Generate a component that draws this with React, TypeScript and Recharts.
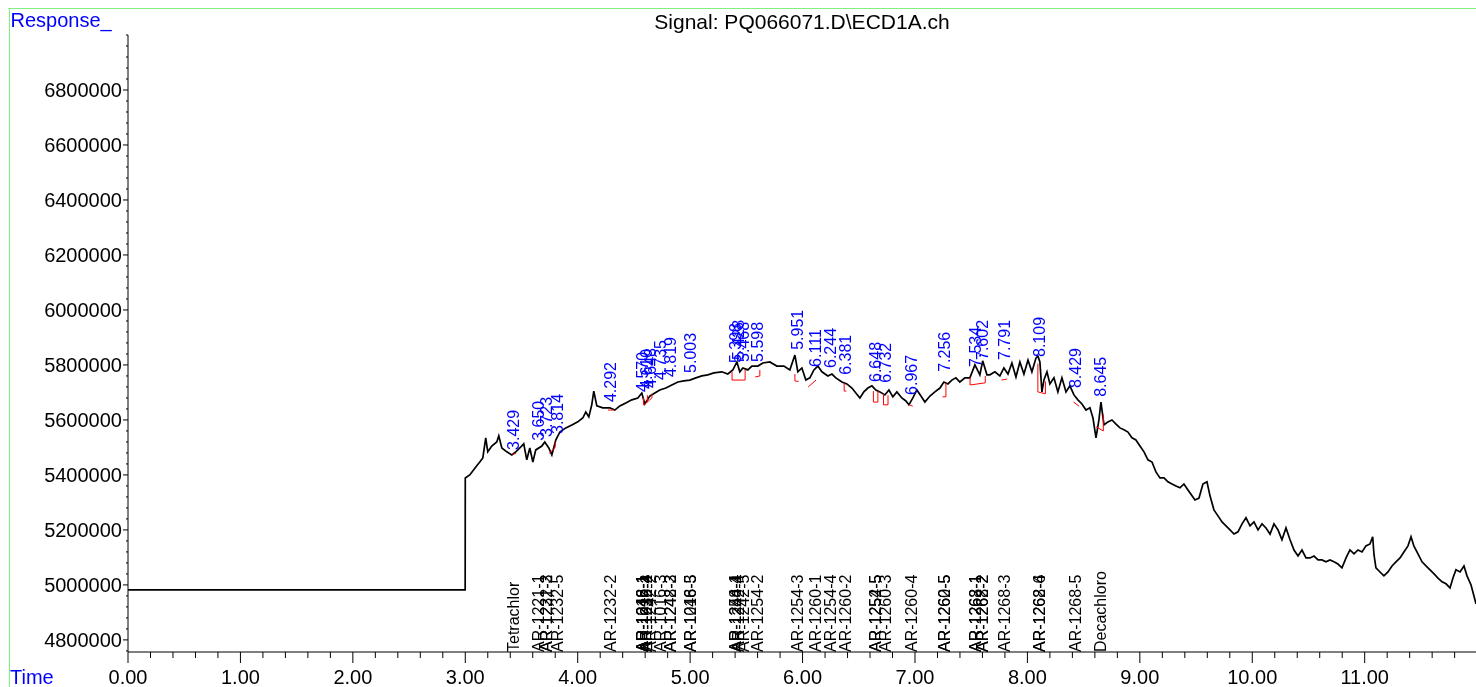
import { ComposedChart, Line, Scatter, XAxis, YAxis } from 'recharts';

// detector trace: [time (min), response]
const signal: [number, number][] = [
  [0, 4982000], [2.999, 4982000], [3.0, 5389000], [3.04, 5400000], [3.102, 5433000],
  [3.129, 5447000], [3.156, 5462000], [3.182, 5535000], [3.2, 5484000], [3.236, 5505000],
  [3.28, 5520000], [3.298, 5542000], [3.325, 5498000], [3.369, 5484000], [3.414, 5473000],
  [3.449, 5484000], [3.485, 5498000], [3.52, 5513000], [3.547, 5455000], [3.574, 5498000],
  [3.601, 5447000], [3.627, 5491000], [3.681, 5505000], [3.707, 5520000], [3.743, 5498000],
  [3.77, 5473000], [3.805, 5527000], [3.841, 5556000], [3.894, 5571000], [3.948, 5582000],
  [4.001, 5593000], [4.045, 5607000], [4.072, 5629000], [4.099, 5611000], [4.125, 5655000],
  [4.143, 5705000], [4.17, 5651000], [4.223, 5644000], [4.286, 5644000], [4.33, 5636000],
  [4.375, 5651000], [4.428, 5662000], [4.481, 5673000], [4.535, 5680000], [4.57, 5698000],
  [4.597, 5658000], [4.641, 5687000], [4.686, 5698000], [4.73, 5709000], [4.784, 5716000],
  [4.837, 5727000], [4.891, 5738000], [4.944, 5742000], [4.997, 5745000], [5.051, 5753000],
  [5.104, 5760000], [5.157, 5764000], [5.211, 5771000], [5.282, 5775000], [5.335, 5767000],
  [5.38, 5782000], [5.416, 5811000], [5.442, 5775000], [5.469, 5789000], [5.513, 5782000],
  [5.549, 5796000], [5.602, 5796000], [5.647, 5807000], [5.709, 5811000], [5.771, 5796000],
  [5.834, 5796000], [5.887, 5782000], [5.932, 5836000], [5.958, 5775000], [5.994, 5789000],
  [6.029, 5745000], [6.065, 5753000], [6.101, 5782000], [6.136, 5796000], [6.172, 5775000],
  [6.225, 5760000], [6.261, 5767000], [6.296, 5753000], [6.35, 5738000], [6.394, 5731000],
  [6.439, 5716000], [6.474, 5698000], [6.51, 5680000], [6.545, 5702000], [6.581, 5716000],
  [6.617, 5724000], [6.652, 5709000], [6.688, 5702000], [6.732, 5691000], [6.768, 5709000],
  [6.803, 5684000], [6.839, 5702000], [6.883, 5680000], [6.919, 5669000], [6.946, 5655000],
  [6.981, 5680000], [7.017, 5709000], [7.053, 5687000], [7.088, 5665000], [7.133, 5687000],
  [7.177, 5702000], [7.222, 5716000], [7.257, 5738000], [7.293, 5731000], [7.328, 5745000],
  [7.364, 5753000], [7.399, 5738000], [7.444, 5753000], [7.488, 5753000], [7.533, 5800000],
  [7.577, 5764000], [7.602, 5815000], [7.64, 5764000], [7.666, 5764000], [7.711, 5775000],
  [7.755, 5760000], [7.791, 5789000], [7.827, 5767000], [7.862, 5807000], [7.898, 5756000],
  [7.933, 5811000], [7.969, 5767000], [8.005, 5818000], [8.04, 5775000], [8.076, 5825000],
  [8.093, 5833000], [8.111, 5811000], [8.129, 5702000], [8.147, 5745000], [8.174, 5775000],
  [8.2, 5731000], [8.236, 5753000], [8.271, 5702000], [8.307, 5753000], [8.343, 5702000],
  [8.378, 5724000], [8.414, 5691000], [8.449, 5673000], [8.485, 5658000], [8.521, 5636000],
  [8.556, 5644000], [8.583, 5607000], [8.61, 5535000], [8.636, 5600000], [8.654, 5665000],
  [8.681, 5582000], [8.716, 5593000], [8.752, 5600000], [8.788, 5585000], [8.823, 5571000],
  [8.859, 5564000], [8.894, 5556000], [8.93, 5535000], [8.965, 5527000], [9.001, 5505000],
  [9.037, 5484000], [9.072, 5455000], [9.108, 5447000], [9.143, 5411000], [9.179, 5389000],
  [9.215, 5389000], [9.25, 5375000], [9.286, 5367000], [9.321, 5360000], [9.357, 5353000],
  [9.392, 5367000], [9.428, 5345000], [9.464, 5324000], [9.49, 5309000], [9.526, 5316000],
  [9.561, 5367000], [9.597, 5375000], [9.624, 5324000], [9.659, 5273000], [9.695, 5251000],
  [9.731, 5229000], [9.766, 5215000], [9.802, 5200000], [9.837, 5185000], [9.873, 5193000],
  [9.909, 5222000], [9.944, 5244000], [9.98, 5215000], [10.015, 5229000], [10.051, 5200000],
  [10.087, 5222000], [10.122, 5207000], [10.158, 5185000], [10.193, 5222000], [10.229, 5200000],
  [10.264, 5164000], [10.3, 5207000], [10.336, 5164000], [10.371, 5127000], [10.407, 5105000],
  [10.442, 5127000], [10.478, 5098000], [10.513, 5098000], [10.549, 5105000], [10.585, 5091000],
  [10.62, 5091000], [10.656, 5084000], [10.691, 5091000], [10.727, 5084000], [10.762, 5076000],
  [10.798, 5062000], [10.834, 5098000], [10.869, 5127000], [10.905, 5113000], [10.94, 5127000],
  [10.976, 5120000], [11.011, 5142000], [11.047, 5149000], [11.071, 5175000], [11.083, 5109000],
  [11.1, 5062000], [11.136, 5047000], [11.171, 5033000], [11.207, 5047000], [11.243, 5069000],
  [11.278, 5084000], [11.314, 5098000], [11.349, 5120000], [11.385, 5142000], [11.412, 5175000],
  [11.437, 5142000], [11.474, 5113000], [11.51, 5084000], [11.545, 5069000], [11.581, 5055000],
  [11.617, 5040000], [11.652, 5025000], [11.688, 5011000], [11.723, 5004000], [11.759, 4989000],
  [11.785, 5025000], [11.812, 5055000], [11.848, 5047000], [11.883, 5069000], [11.91, 5033000],
  [11.946, 5000000], [11.99, 4931000],
];

// integration baselines (red)
const baselines: [number, number][][] = [
  [[3.42, 5475000], [3.45, 5478000]],
  [[3.745, 5478000], [3.8, 5500000], [3.8, 5520000]],
  [[4.27, 5636000], [4.32, 5636000]],
  [[4.585, 5680000], [4.585, 5655000], [4.62, 5665000], [4.62, 5690000]],
  [[4.62, 5665000], [4.66, 5680000], [4.66, 5695000]],
  [[5.373, 5775000], [5.373, 5745000], [5.489, 5745000], [5.489, 5782000]],
  [[5.578, 5756000], [5.62, 5760000], [5.62, 5782000]],
  [[5.932, 5767000], [5.932, 5742000], [5.965, 5740000]],
  [[6.05, 5720000], [6.12, 5745000]],
  [[6.37, 5735000], [6.37, 5705000], [6.39, 5705000]],
  [[6.63, 5705000], [6.63, 5665000], [6.67, 5665000], [6.67, 5705000]],
  [[6.72, 5695000], [6.72, 5655000], [6.76, 5655000], [6.76, 5690000]],
  [[6.95, 5655000], [6.98, 5650000]],
  [[7.245, 5684000], [7.275, 5684000], [7.275, 5735000]],
  [[7.49, 5755000], [7.49, 5727000], [7.625, 5735000], [7.625, 5760000]],
  [[7.77, 5745000], [7.82, 5749000]],
  [[8.093, 5805000], [8.093, 5702000], [8.16, 5695000], [8.16, 5740000]],
  [[8.41, 5665000], [8.46, 5650000]],
  [[8.61, 5575000], [8.675, 5560000], [8.675, 5620000]],
];

// retention time labels: [text, time, response at label foot]
const peakLabels: [string, number, number][] = [
  ['3.429', 3.429, 5491000], ['3.650', 3.65, 5524000], ['3.723', 3.723, 5538000],
  ['3.814', 3.814, 5549000], ['4.292', 4.292, 5665000], ['4.570', 4.57, 5702000],
  ['4.610', 4.61, 5713000], ['4.648', 4.648, 5716000], ['4.735', 4.735, 5745000],
  ['4.819', 4.819, 5756000], ['5.003', 5.003, 5771000], ['5.398', 5.398, 5807000],
  ['5.428', 5.428, 5818000], ['5.468', 5.468, 5811000], ['5.598', 5.598, 5811000],
  ['5.951', 5.951, 5855000], ['6.111', 6.111, 5793000], ['6.244', 6.244, 5789000],
  ['6.381', 6.381, 5764000], ['6.648', 6.648, 5738000], ['6.732', 6.732, 5735000],
  ['6.967', 6.967, 5691000], ['7.256', 7.256, 5775000], ['7.534', 7.534, 5793000],
  ['7.602', 7.602, 5818000], ['7.791', 7.791, 5818000], ['8.109', 8.109, 5829000],
  ['8.429', 8.429, 5716000], ['8.645', 8.645, 5684000],
];

// compound names along the bottom: [name, time]
const compounds: [string, number][] = [
  ['Tetrachlor', 3.429], ['AR-1221-1', 3.65], ['AR-1221-2', 3.723], ['AR-1232-3', 3.723],
  ['AR-1232-5', 3.814], ['AR-1232-2', 4.292], ['AR-1016-1', 4.57], ['AR-1242-1', 4.57],
  ['AR-1248-1', 4.57], ['AR-1016-2', 4.61], ['AR-1232-4', 4.61], ['AR-1242-2', 4.648],
  ['AR-1016-3', 4.735], ['AR-1242-3', 4.819], ['AR-1248-2', 4.819], ['AR-1248-3', 5.003],
  ['AR-1016-5', 5.003], ['AR-1254-1', 5.398], ['AR-1248-4', 5.398], ['AR-1242-4', 5.428],
  ['AR-1242-5', 5.468], ['AR-1254-2', 5.598], ['AR-1254-3', 5.951], ['AR-1260-1', 6.111],
  ['AR-1254-4', 6.244], ['AR-1260-2', 6.381], ['AR-1254-5', 6.648], ['AR-1252-5', 6.648],
  ['AR-1260-3', 6.732], ['AR-1260-4', 6.967], ['AR-1262-5', 7.256], ['AR-1260-5', 7.256],
  ['AR-1268-1', 7.534], ['AR-1262-1', 7.534], ['AR-1268-2', 7.602], ['AR-1262-2', 7.602],
  ['AR-1268-3', 7.791], ['AR-1268-4', 8.109], ['AR-1262-6', 8.109], ['AR-1268-5', 8.429],
  ['Decachloro', 8.645],
];

const xMajor = [0, 1, 2, 3, 4, 5, 6, 7, 8, 9, 10, 11];
const yMajor = [4800000, 5000000, 5200000, 5400000, 5600000, 5800000, 6000000, 6200000, 6400000, 6600000, 6800000];

const Y_MIN = 4756000;
const Y_MAX = 7000000;
const FONT = "'Liberation Sans', Arial, sans-serif";

const trace = signal.map(([t, v]) => ({ t, v }));
const peakData = peakLabels.map(([label, t, v]) => ({ t, v, label }));
const nameData = compounds.map(([label, t]) => ({ t, v: Y_MIN, label }));
const xTicks = Array.from({ length: 60 }, (_, i) => Math.round(i * 2) / 10);
const yTicks = Array.from({ length: 57 }, (_, i) => 4760000 + i * 40000);

const XTick = ({ x, y, payload }: any) => {
  const major = xMajor.includes(payload.value);
  return (
    <g>
      <line x1={x} x2={x} y1={y} y2={y + (major ? 11 : 6)} stroke="#000" />
      {major && (
        <text x={x} y={y + 32} textAnchor="middle" fontSize={20} fontFamily={FONT} fill="#000">
          {payload.value.toFixed(2)}
        </text>
      )}
    </g>
  );
};

const YTick = ({ x, y, payload }: any) => {
  const major = yMajor.includes(payload.value);
  return (
    <g>
      <line x1={x - (major ? 5 : 2)} x2={x} y1={y} y2={y} stroke="#000" />
      {major && (
        <text x={x - 6} y={y + 7} textAnchor="end" fontSize={20} fontFamily={FONT} fill="#000">
          {payload.value}
        </text>
      )}
    </g>
  );
};

const vertical = (color: string) => (props: any) => {
  const { cx, cy, payload } = props;
  return (
    <text
      x={cx}
      y={cy}
      dy="0.36em"
      transform={`rotate(-90, ${cx}, ${cy})`}
      textAnchor="start"
      fontSize={16}
      fontFamily={FONT}
      fill={color}
    >
      {payload.label}
    </text>
  );
};

const W = 1468;
const H = 679;

export default function App() {
  return (
    <div style={{ position: 'fixed', left: 8, top: 8, width: W, height: H, fontFamily: FONT }}>
      <ComposedChart width={W} height={H} data={trace} margin={{ top: 27, right: 0, bottom: 0, left: 0 }}>
        <XAxis
          dataKey="t"
          type="number"
          domain={[0, 11.99]}
          allowDataOverflow
          ticks={xTicks}
          interval={0}
          tickSize={0}
          tickMargin={0}
          tick={<XTick />}
          height={35}
          stroke="#000"
        />
        <YAxis
          type="number"
          domain={[Y_MIN, Y_MAX]}
          allowDataOverflow
          ticks={yTicks}
          interval={0}
          tickSize={0}
          tickMargin={0}
          tick={<YTick />}
          width={120}
          stroke="#000"
        />
        <Line
          dataKey="v"
          type="linear"
          stroke="#000"
          strokeWidth={1.7}
          dot={false}
          isAnimationActive={false}
        />
        {baselines.map((seg, i) => (
          <Line
            key={i}
            data={seg.map(([t, v]) => ({ t, v }))}
            dataKey="v"
            type="linear"
            stroke="#ff0000"
            strokeWidth={1}
            dot={false}
            isAnimationActive={false}
          />
        ))}
        <Scatter data={peakData} dataKey="v" shape={vertical('#0000ff')} isAnimationActive={false} />
        <Scatter data={nameData} dataKey="v" shape={vertical('#000000')} isAnimationActive={false} />
      </ComposedChart>
      <svg
        width={W}
        height={H}
        style={{ position: 'absolute', left: 0, top: 0, pointerEvents: 'none', overflow: 'visible' }}
      >
        <line x1={0} x2={W} y1={0.5} y2={0.5} stroke="#80f080" />
        <line x1={1.5} x2={1.5} y1={0} y2={H} stroke="#80f080" />
        <text x={2.5} y={18.7} fontSize={20} fontFamily={FONT} fill="#0000ff">Response_</text>
        <text x={794} y={21} textAnchor="middle" fontSize={21} fontFamily={FONT} fill="#000">
          Signal: PQ066071.D\ECD1A.ch
        </text>
        <text x={2} y={676} fontSize={20} fontFamily={FONT} fill="#0000ff">Time</text>
      </svg>
    </div>
  );
}
